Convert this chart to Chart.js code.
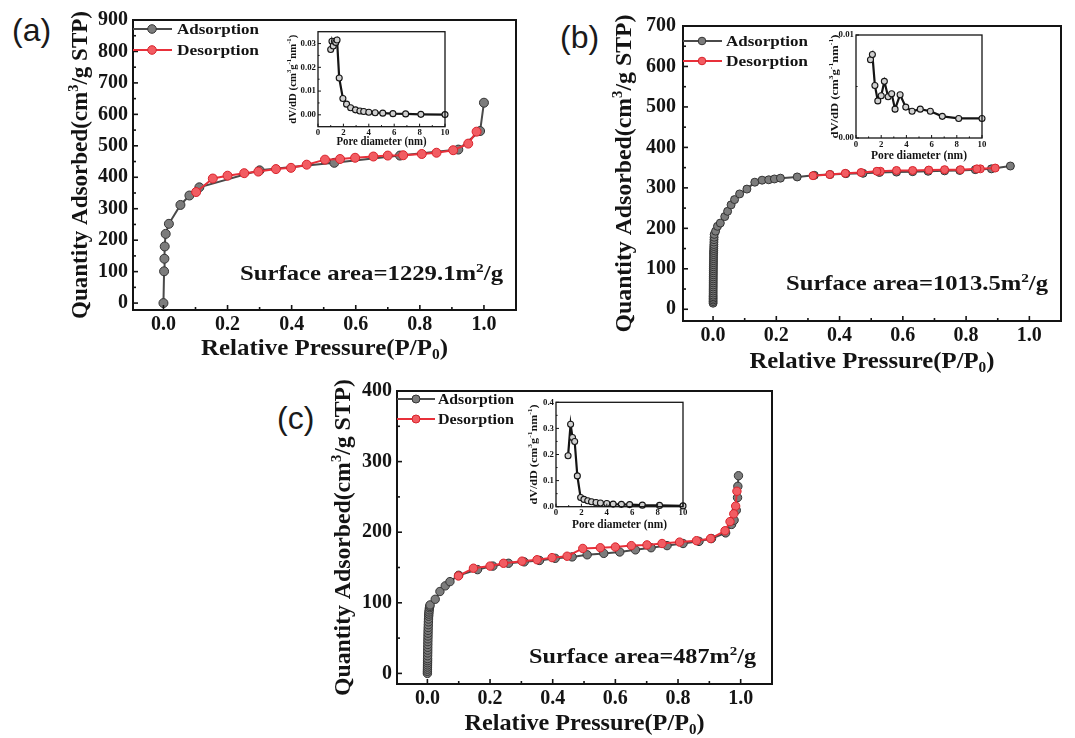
<!DOCTYPE html>
<html>
<head>
<meta charset="utf-8">
<script src="https://cdn.jsdelivr.net/npm/chart.js@4.4.0/dist/chart.umd.min.js"></script>
<style>
    html, body { margin: 0; padding: 0; background: #fff; }
    #fig { position: relative; width: 1075px; height: 738px; overflow: hidden; }
    #fig canvas { position: absolute; }
    .tag { position: absolute; font-family: "Liberation Sans", Arial, sans-serif; font-size: 32px; line-height: 32px; color: #1a1a1a; }
</style>
</head>
<body>
<div id="fig">
    <div class="tag" style="left:12px;top:14px">(a)</div>
    <div class="tag" style="left:560px;top:21px">(b)</div>
    <div class="tag" style="left:277px;top:402px">(c)</div>
    <canvas id="ca"></canvas>
    <canvas id="cb"></canvas>
    <canvas id="cc"></canvas>
    <canvas id="ia"></canvas>
    <canvas id="ib"></canvas>
    <canvas id="ic"></canvas>
</div>
<script>
// ---------- data: panel (a) ----------
const adsA_P = [0, 0.002, 0.003, 0.004, 0.007, 0.017, 0.053, 0.081, 0.112, 0.30, 0.533, 0.738, 0.92, 0.988, 1.0];
const adsA_Q = [0, 101, 141, 180, 220, 252, 312, 342, 368, 422, 446, 469, 488, 547, 637];
const desA_P = [0.977, 0.951, 0.904, 0.852, 0.806, 0.748, 0.70, 0.655, 0.598, 0.551, 0.504, 0.447, 0.398, 0.351, 0.296, 0.252, 0.20, 0.154, 0.102];
const desA_Q = [545, 507, 486, 478, 474, 470, 469, 466, 462, 458, 456, 440, 430, 426, 418, 413, 405, 396, 353];
const poreA = [1.0, 1.1, 1.2, 1.3, 1.4, 1.5, 1.67, 1.96, 2.25, 2.57, 2.95, 3.3, 3.6, 4.0, 4.5, 5.1, 5.9, 6.9, 8.1, 10];
const dvA = [0.0275, 0.031, 0.029, 0.031, 0.0305, 0.0315, 0.0155, 0.0069, 0.0045, 0.003, 0.0021, 0.0016, 0.0014, 0.0011, 0.0009, 0.0007, 0.0005, 0.0004, 0.0002, 0.0001];

// ---------- data: panel (b) ----------
const adsB_P = [0.0001, 0.0001, 0.0001, 0.0002, 0.0002, 0.0002, 0.0003, 0.0003, 0.0003, 0.0004, 0.0004, 0.0005, 0.0005, 0.0006, 0.0006, 0.0007, 0.0008, 0.0008, 0.0009, 0.001, 0.0011, 0.0012, 0.0013, 0.0014, 0.0015, 0.0016, 0.0018, 0.002, 0.0022, 0.0024, 0.0026, 0.0028, 0.003, 0.0033, 0.0036,
    0.008, 0.014, 0.023, 0.037, 0.046, 0.057, 0.068, 0.084, 0.107, 0.132, 0.155, 0.176, 0.194, 0.213, 0.266, 0.32, 0.37, 0.42, 0.474, 0.526, 0.58, 0.631, 0.68, 0.732, 0.78, 0.829, 0.88, 0.94];
const adsB_Q = [15, 19, 23, 27, 31, 35, 40, 45, 50, 55, 60, 65, 70, 75, 80, 85, 90, 95, 100, 105, 110, 115, 120, 125, 130, 135, 140, 145, 150, 155, 160, 166, 172, 178, 185,
    193, 205, 213, 229, 242, 258, 271, 285, 297, 314, 319, 320, 322, 324, 327, 331, 333, 335, 336, 338, 339, 340, 341, 342, 343, 345, 347, 354];
const desB_P = [0.892, 0.845, 0.834, 0.782, 0.732, 0.682, 0.631, 0.58, 0.529, 0.518, 0.468, 0.418, 0.369, 0.316];
const desB_Q = [349, 347, 347, 345, 345, 344, 343, 343, 341, 341, 338, 336, 333, 330];
const poreB = [1.15, 1.3, 1.5, 1.73, 2.0, 2.25, 2.55, 2.83, 3.1, 3.5, 3.95, 4.45, 5.1, 5.9, 6.85, 8.15, 10];
const dvB = [0.0076, 0.0081, 0.0051, 0.0036, 0.0041, 0.0055, 0.0040, 0.0043, 0.0028, 0.0042, 0.0030, 0.0026, 0.0028, 0.0026, 0.0021, 0.0019, 0.0019];

// ---------- data: panel (c) ----------
const adsC_P = [0, 0, 0.0002, 0.0003, 0.0004, 0.0005, 0.0006, 0.0007, 0.0008, 0.001, 0.0011, 0.0012, 0.0014, 0.0015, 0.0017, 0.0019, 0.0021, 0.0023, 0.0026, 0.0029, 0.0032, 0.0036, 0.004, 0.0045, 0.005, 0.0058, 0.0066, 0.0075, 0.0085,
    0.025, 0.04, 0.057, 0.072, 0.1, 0.16, 0.209, 0.259, 0.309, 0.358, 0.408, 0.462, 0.51, 0.563, 0.614, 0.664, 0.714, 0.765, 0.816, 0.867, 0.907, 0.952, 0.971, 0.979, 0.986, 0.99, 0.991, 0.993];
const adsC_Q = [0, 3, 6, 9, 12, 15, 18, 21, 25, 29, 33, 37, 41, 45, 49, 53, 57, 61, 65, 69, 73, 77, 81, 84, 87, 90, 93, 95, 97,
    105, 116, 124, 130, 139, 147, 152, 156, 158, 160, 163, 165, 168, 170, 172, 175, 178, 181, 184, 187, 191, 199, 211, 217, 231, 249, 265, 280];
const desC_P = [0.988, 0.984, 0.978, 0.966, 0.95, 0.904, 0.859, 0.805, 0.749, 0.701, 0.651, 0.60, 0.552, 0.496, 0.446, 0.398, 0.35, 0.302, 0.243, 0.2, 0.147, 0.099];
const desC_Q = [258, 237, 226, 215, 202, 191, 188, 186, 184, 182, 181, 179, 178, 177, 166, 164, 161, 159, 156, 152, 149, 138];
const poreC = [0.95, 1.15, 1.3, 1.47, 1.68, 1.94, 2.2, 2.5, 2.8, 3.15, 3.5, 4.0, 4.5, 5.15, 5.8, 6.8, 8.15, 10];
const dvC = [0.195, 0.316, 0.265, 0.25, 0.118, 0.035, 0.028, 0.023, 0.019, 0.016, 0.014, 0.012, 0.01, 0.009, 0.008, 0.006, 0.005, 0.003];

// ---------- ticks ----------
const mainXTicks = [0, 0.2, 0.4, 0.6, 0.8, 1.0];
const mainXLabels = ['0.0', '0.2', '0.4', '0.6', '0.8', '1.0'];
const yTicksA = [0, 100, 200, 300, 400, 500, 600, 700, 800, 900];
const yTicksB = [0, 100, 200, 300, 400, 500, 600, 700];
const yTicksC = [0, 100, 200, 300, 400];
const insetXTicks = [0, 2, 4, 6, 8, 10];
const insetXLabels = ['0', '2', '4', '6', '8', '10'];
const insetYTicksA = [0, 0.01, 0.02, 0.03];
const insetYLabelsA = ['0.00', '0.01', '0.02', '0.03'];
const insetYTicksB = [0, 0.01];
const insetYLabelsB = ['0.00', '0.01'];
const insetYTicksC = [0, 0.1, 0.2, 0.3, 0.4];
const insetYLabelsC = ['0.0', '0.1', '0.2', '0.3', '0.4'];

const SERIF = '"Liberation Serif", "Times New Roman", serif';
const INK = '#141414';
const decorFor = {};

function pts(xs, ys) {
    return xs.map((x, i) => ({x: x, y: ys[i]}));
}

function fontFor(part, size) {
    const s = part.s ? size * 0.62 : size;
    return 'bold ' + s + 'px ' + SERIF;
}

// text with super/subscripts, centred at (cx, cy), stretched to len
function drawRich(ctx, parts, cx, cy, size, len, rot) {
    let w = 0;
    parts.forEach(p => { ctx.font = fontFor(p, size); w += ctx.measureText(p.t).width; });
    const sx = len ? len / w : 1;
    ctx.save();
    ctx.translate(cx, cy);
    if (rot) ctx.rotate(rot);
    ctx.scale(sx, 1);
    ctx.fillStyle = INK;
    ctx.textAlign = 'left';
    ctx.textBaseline = 'alphabetic';
    let x = -w / 2;
    const base = size * 0.33;
    parts.forEach(p => {
        ctx.font = fontFor(p, size);
        let dy = 0;
        if (p.s === 'sup') dy = -size * 0.38;
        if (p.s === 'sub') dy = size * 0.2;
        ctx.fillText(p.t, x, base + dy);
        x += ctx.measureText(p.t).width;
    });
    ctx.restore();
}

function mids(arr) {
    const out = [];
    for (let i = 0; i < arr.length - 1; i++) out.push((arr[i] + arr[i + 1]) / 2);
    return out;
}

const decorPlugin = {
    id: 'decor',
    afterDraw(chart) {
        const o = decorFor[chart.canvas.id];
        const {ctx, chartArea: a, scales: {x, y}} = chart;
        const ox = o.box[0], oy = o.box[1];
        ctx.save();
        ctx.strokeStyle = INK;
        ctx.lineWidth = o.tickW;
        const tick = (x0, y0, x1, y1) => { ctx.beginPath(); ctx.moveTo(x0, y0); ctx.lineTo(x1, y1); ctx.stroke(); };
        o.xTicks.forEach(v => { const px = x.getPixelForValue(v); tick(px, a.bottom, px, a.bottom - o.major); });
        mids(o.xTicks).forEach(v => { const px = x.getPixelForValue(v); tick(px, a.bottom, px, a.bottom - o.minor); });
        o.yTicks.forEach(v => { const py = y.getPixelForValue(v); tick(a.left, py, a.left + o.major, py); });
        mids(o.yTicks).forEach(v => { const py = y.getPixelForValue(v); tick(a.left, py, a.left + o.minor, py); });
        ctx.lineWidth = o.frameW;
        ctx.strokeRect(a.left, a.top, a.right - a.left, a.bottom - a.top);

        // axis titles
        drawRich(ctx, o.xTitle.parts, (a.left + a.right) / 2, o.xTitle.y - oy, o.xTitle.size, o.xTitle.len, 0);
        drawRich(ctx, o.yTitle.parts, o.yTitle.x - ox, (a.top + a.bottom) / 2, o.yTitle.size, o.yTitle.len, -Math.PI / 2);

        // legend
        if (o.legend) {
            const g = o.legend;
            chart.data.datasets.forEach((ds, i) => {
                const ly = g.rows[i] - oy;
                ctx.strokeStyle = ds.borderColor;
                ctx.lineWidth = 2;
                tick(g.x0 - ox, ly, g.x1 - ox, ly);
                ctx.beginPath();
                ctx.arc(g.mx - ox, ly, g.r, 0, Math.PI * 2);
                ctx.fillStyle = ds.pointBackgroundColor;
                ctx.fill();
                ctx.lineWidth = 1;
                ctx.strokeStyle = ds.pointBorderColor;
                ctx.stroke();
                const parts = [{t: ds.label}];
                drawRich(ctx, parts, g.tx - ox + g.tw / 2, ly, g.size, g.tw, 0);
            });
        }

        // surface area note
        if (o.note) {
            const n = o.note;
            drawRich(ctx, n.parts, (n.l + n.r) / 2 - ox, n.base - oy - n.size * 0.33, n.size, n.r - n.l, 0);
        }
        ctx.restore();
    }
};

function makeChart(p) {
    const cv = document.getElementById(p.id);
    cv.width = p.box[2];
    cv.height = p.box[3];
    cv.style.left = p.box[0] + 'px';
    cv.style.top = p.box[1] + 'px';
    const [L, T, R, B] = p.area;
    decorFor[p.id] = p;
    const tickFont = {family: SERIF, size: p.tickSize, weight: 'bold'};
    return new Chart(cv, {
        type: 'line',
        data: {datasets: p.datasets},
        options: {
            responsive: false,
            animation: false,
            devicePixelRatio: 1,
            layout: {padding: {left: 0, top: T - p.box[1], right: p.box[0] + p.box[2] - R, bottom: 0}},
            plugins: {legend: {display: false}, tooltip: {enabled: false}},
            scales: {
                x: {
                    type: 'linear', min: p.xRange[0], max: p.xRange[1],
                    grid: {display: false, drawTicks: false},
                    border: {display: false},
                    ticks: {font: tickFont, color: INK, padding: p.xPad, maxRotation: 0, autoSkip: false,
                        callback: (v, i) => p.xLabels[i]},
                    afterBuildTicks: s => { s.ticks = p.xTicks.map(v => ({value: v})); },
                    afterFit: s => { s.height = p.box[1] + p.box[3] - B; }
                },
                y: {
                    type: 'linear', min: p.yRange[0], max: p.yRange[1],
                    grid: {display: false, drawTicks: false},
                    border: {display: false},
                    ticks: {font: tickFont, color: INK, padding: p.yPad, autoSkip: false,
                        callback: (v, i) => p.yLabels[i]},
                    afterBuildTicks: s => { s.ticks = p.yTicks.map(v => ({value: v})); },
                    afterFit: s => { s.width = L - p.box[0]; }
                }
            }
        },
        plugins: [decorPlugin]
    });
}

function isotherm(ads, des, r) {
    return [
        {label: 'Adsorption', data: ads, borderColor: '#4a4a4a', borderWidth: 2, tension: 0,
            pointRadius: r, pointBackgroundColor: '#7c7c7c', pointBorderColor: '#333333', pointBorderWidth: 1,
            order: 2, clip: false},
        {label: 'Desorption', data: des, borderColor: '#e8303a', borderWidth: 2, tension: 0,
            pointRadius: r, pointBackgroundColor: '#f25c62', pointBorderColor: '#d9222b', pointBorderWidth: 1,
            order: 1, clip: false}
    ];
}

function poreSet(data) {
    return [{label: 'PSD', data: data, borderColor: INK, borderWidth: 2.2, tension: 0,
        pointRadius: 3, pointBackgroundColor: '#d0d0d0', pointBorderColor: INK, pointBorderWidth: 1.1, clip: false}];
}

const yTitleParts = [{t: 'Quantity Adsorbed(cm'}, {t: '3', s: 'sup'}, {t: '/g STP)'}];
const xTitleParts = [{t: 'Relative Pressure(P/P'}, {t: '0', s: 'sub'}, {t: ')'}];
const insetY = [{t: 'dV/dD (cm'}, {t: '3', s: 'sup'}, {t: 'g'}, {t: '-1', s: 'sup'}, {t: 'nm'}, {t: '-1', s: 'sup'}, {t: ')'}];
const insetX = [{t: 'Pore diameter (nm)'}];
const note = txt => [{t: 'Surface area=' + txt + 'm'}, {t: '2', s: 'sup'}, {t: '/g'}];

const mainCommon = {xTicks: mainXTicks, xLabels: mainXLabels, tickSize: 20, xPad: 3, frameW: 2, tickW: 1.6, major: 5, minor: 3};
const insetCommon = {xRange: [0, 10], xTicks: insetXTicks, xLabels: insetXLabels, tickSize: 8.8, xPad: 1, yPad: 2, frameW: 1.3, tickW: 1, major: 3, minor: 1.6};

// main panels
makeChart(Object.assign({}, mainCommon, {
    id: 'ca', box: [0, 0, 540, 370], area: [133, 20, 516, 310],
    xRange: [-0.095, 1.1], yRange: [-22, 900], yTicks: yTicksA, yLabels: yTicksA.map(String), yPad: 5,
    datasets: isotherm(pts(adsA_P, adsA_Q), pts(desA_P, desA_Q), 4.5),
    xTitle: {parts: xTitleParts, y: 347, len: 247, size: 23},
    yTitle: {parts: yTitleParts, x: 79, len: 308, size: 23},
    legend: {rows: [29, 50], x0: 133, x1: 172, mx: 152, r: 4.3, tx: 177, tw: 82, size: 15.5},
    note: {parts: note('1229.1'), l: 240, r: 503, base: 280, size: 21}
}));

makeChart(Object.assign({}, mainCommon, {
    id: 'cb', box: [540, 0, 535, 380], area: [683, 26, 1061, 321],
    xRange: [-0.095, 1.1], yRange: [-29, 700], yTicks: yTicksB, yLabels: yTicksB.map(String), yPad: 7,
    datasets: isotherm(pts(adsB_P, adsB_Q), pts(desB_P, desB_Q), 4),
    xTitle: {parts: xTitleParts, y: 360, len: 245, size: 23},
    yTitle: {parts: yTitleParts, x: 623, len: 318, size: 23},
    legend: {rows: [41, 61], x0: 683, x1: 722, mx: 702, r: 3.8, tx: 726, tw: 82, size: 15.5},
    note: {parts: note('1013.5'), l: 786, r: 1048, base: 290, size: 21}
}));

makeChart(Object.assign({}, mainCommon, {
    id: 'cc', box: [270, 370, 540, 368], area: [397, 391, 772, 684],
    xRange: [-0.097, 1.1], yRange: [-15, 400], yTicks: yTicksC, yLabels: yTicksC.map(String), yPad: 5,
    datasets: isotherm(pts(adsC_P, adsC_Q), pts(desC_P, desC_Q), 4.2),
    xTitle: {parts: xTitleParts, y: 722, len: 240, size: 23},
    yTitle: {parts: yTitleParts, x: 342, len: 317, size: 23},
    legend: {rows: [399, 419], x0: 397, x1: 435, mx: 416, r: 4, tx: 438, tw: 76, size: 15.5},
    note: {parts: note('487'), l: 529, r: 756, base: 663, size: 21}
}));

// insets: pore size distribution
makeChart(Object.assign({}, insetCommon, {
    id: 'ia', box: [280, 20, 175, 130], area: [318, 31.7, 445, 126.7],
    yRange: [-0.005, 0.035], yTicks: insetYTicksA, yLabels: insetYLabelsA,
    datasets: poreSet(pts(poreA, dvA)),
    xTitle: {parts: insetX, y: 141.7, len: 90, size: 11.5},
    yTitle: {parts: insetY, x: 292, len: 89, size: 11}
}));

makeChart(Object.assign({}, insetCommon, {
    id: 'ib', box: [818, 22, 174, 140], area: [856, 35, 982, 138],
    yRange: [0, 0.01], yTicks: insetYTicksB, yLabels: insetYLabelsB,
    datasets: poreSet(pts(poreB, dvB)),
    xTitle: {parts: insetX, y: 155.7, len: 96, size: 11.5},
    yTitle: {parts: insetY, x: 834, len: 104, size: 11}
}));

makeChart(Object.assign({}, insetCommon, {
    id: 'ic', box: [518, 392, 175, 140], area: [556, 402.3, 683, 506.7],
    yRange: [0, 0.4], yTicks: insetYTicksC, yLabels: insetYLabelsC,
    datasets: poreSet(pts(poreC, dvC)),
    xTitle: {parts: insetX, y: 524.3, len: 95, size: 11.5},
    yTitle: {parts: insetY, x: 533, len: 100, size: 11}
}));
</script>
</body>
</html>
